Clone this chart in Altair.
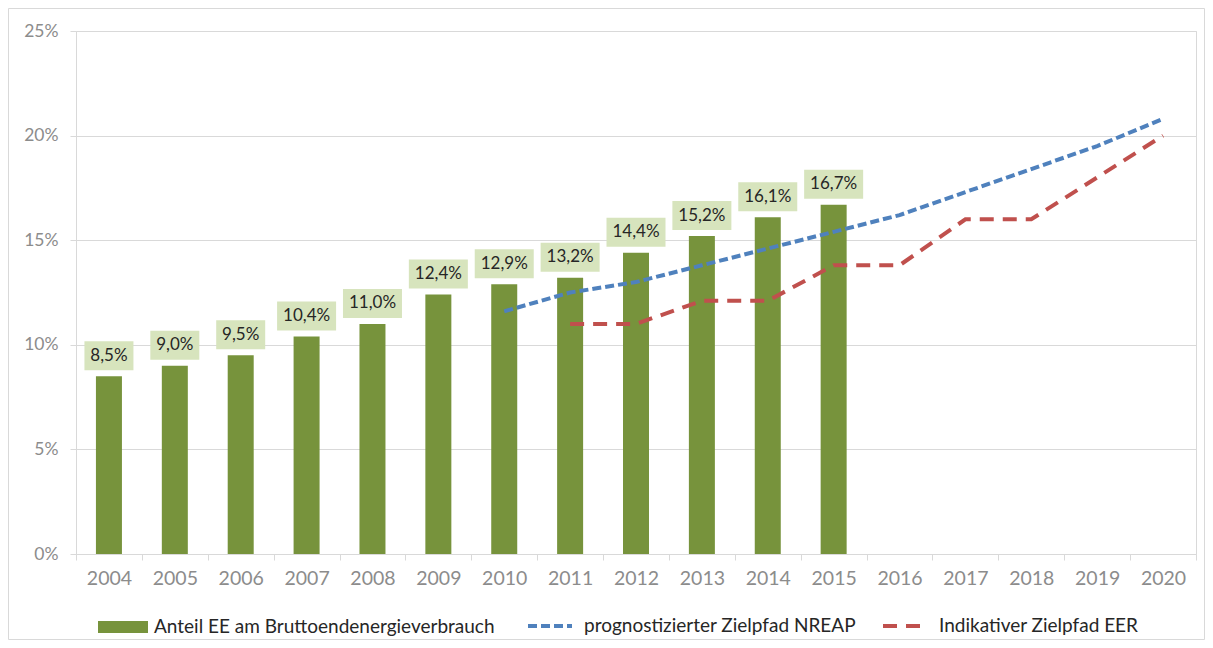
import altair as alt
import pandas as pd

years = [str(y) for y in range(2004, 2021)]

bar_years = [str(y) for y in range(2004, 2016)]
share = [8.5, 9.0, 9.5, 10.4, 11.0, 12.4, 12.9, 13.2, 14.4, 15.2, 16.1, 16.7]

nreap_years = [str(y) for y in range(2010, 2021)]
nreap = [11.6, 12.5, 13.0, 13.8, 14.6, 15.4, 16.2, 17.3, 18.4, 19.5, 20.8]

eer_years = [str(y) for y in range(2011, 2021)]
eer = [11.0, 11.0, 12.1, 12.1, 13.8, 13.8, 16.0, 16.0, 18.0, 20.0]

y_ticks = [0, 5, 10, 15, 20, 25]

S_BAR = "Anteil EE am Bruttoendenergieverbrauch"
S_NREAP = "prognostizierter Zielpfad NREAP"
S_EER = "Indikativer Zielpfad EER"

GREEN = "#77933c"
BOX = "#d7e4bd"
BLUE = "#4f81bd"
RED = "#c0504d"
GRID = "#d9d9d9"
FONT = "Lato"

bars = pd.DataFrame({
    "year": bar_years,
    "value": share,
    "label": [f"{v:.1f}".replace(".", ",") + "%" for v in share],
    "series": S_BAR,
})
lines = pd.concat([
    pd.DataFrame({"year": nreap_years, "value": nreap, "series": S_NREAP}),
    pd.DataFrame({"year": eer_years, "value": eer, "series": S_EER}),
], ignore_index=True)

x_enc = alt.X("year:N", scale=alt.Scale(domain=years, paddingInner=0, paddingOuter=0),
              axis=alt.Axis(title=None, labelAngle=0, domain=False, ticks=True,
                            tickBand="extent", tickColor=GRID, tickSize=6,
                            labelPadding=9, grid=False, labelFontSize=19.5))
y_enc = alt.Y("value:Q", scale=alt.Scale(domain=[0, 25], nice=False),
              axis=alt.Axis(title=None, values=y_ticks, labelExpr="datum.value + '%'",
                            domain=False, grid=True, gridColor=GRID, tickColor=GRID,
                            tickSize=6, labelPadding=12, labelFontSize=17.5))

base_bar = alt.Chart(bars)

bar_layer = base_bar.mark_bar(width=26).encode(
    x=x_enc, y=y_enc,
    fill=alt.Fill("series:N", scale=alt.Scale(domain=[S_BAR], range=[GREEN]),
                  legend=alt.Legend(orient="none", legendX=22, legendY=571, title=None,
                                    symbolType="M-1,-0.24H1V0.24H-1Z", symbolSize=2500,
                                    symbolStrokeWidth=0, labelFont=FONT, labelFontSize=19,
                                    labelColor="#262626", labelOffset=6, padding=0,
                                    labelLimit=500)),
)

box_small = base_bar.transform_filter("length(datum.label) <= 4").mark_bar(
    width=49, yOffset=-6, y2Offset=-35, color=BOX
).encode(x=alt.X("year:N"), y=alt.Y("value:Q"), y2=alt.Y2("value:Q"))

box_large = base_bar.transform_filter("length(datum.label) > 4").mark_bar(
    width=59, yOffset=-6, y2Offset=-35, color=BOX
).encode(x=alt.X("year:N"), y=alt.Y("value:Q"), y2=alt.Y2("value:Q"))

text_layer = base_bar.mark_text(
    dy=-20.5, baseline="middle", align="center", font=FONT, fontSize=17, color="#262626"
).encode(x=alt.X("year:N"), y=alt.Y("value:Q"), text="label:N")

line_legend = alt.Legend(orient="none", legendX=450, legendY=571, title=None,
                         direction="horizontal", columns=2, columnPadding=19,
                         symbolType="stroke", symbolSize=1936, symbolStrokeWidth=4,
                         labelFont=FONT, labelFontSize=19, labelColor="#262626",
                         labelOffset=10, padding=0, labelLimit=500)

line_layer = alt.Chart(lines).mark_line(strokeWidth=4).encode(
    x=alt.X("year:N"), y=alt.Y("value:Q"),
    stroke=alt.Stroke("series:N", scale=alt.Scale(domain=[S_NREAP, S_EER], range=[BLUE, RED]),
                      legend=line_legend),
    strokeDash=alt.StrokeDash("series:N",
                              scale=alt.Scale(domain=[S_NREAP, S_EER], range=[[9, 4], [14, 9]]),
                              legend=line_legend),
)

frame = alt.Chart(pd.DataFrame({"a": [0]})).mark_rect(
    fill=None, stroke=GRID, strokeWidth=1
).encode(x=alt.value(-67.5), x2=alt.value(1128.5), y=alt.value(-22.5), y2=alt.value(608.5))

chart = alt.layer(frame, bar_layer, box_small, box_large, text_layer, line_layer).properties(
    width=1120, height=523,
    autosize=alt.AutoSizeParams(type="none"),
    padding={"left": 68, "top": 23, "right": 9, "bottom": 86},
).configure_view(stroke=GRID, strokeWidth=1).configure_axis(
    labelFont=FONT, labelColor="#8c8c8c"
)

chart.save("out.html", embed_options={"renderer": "svg", "actions": False})
